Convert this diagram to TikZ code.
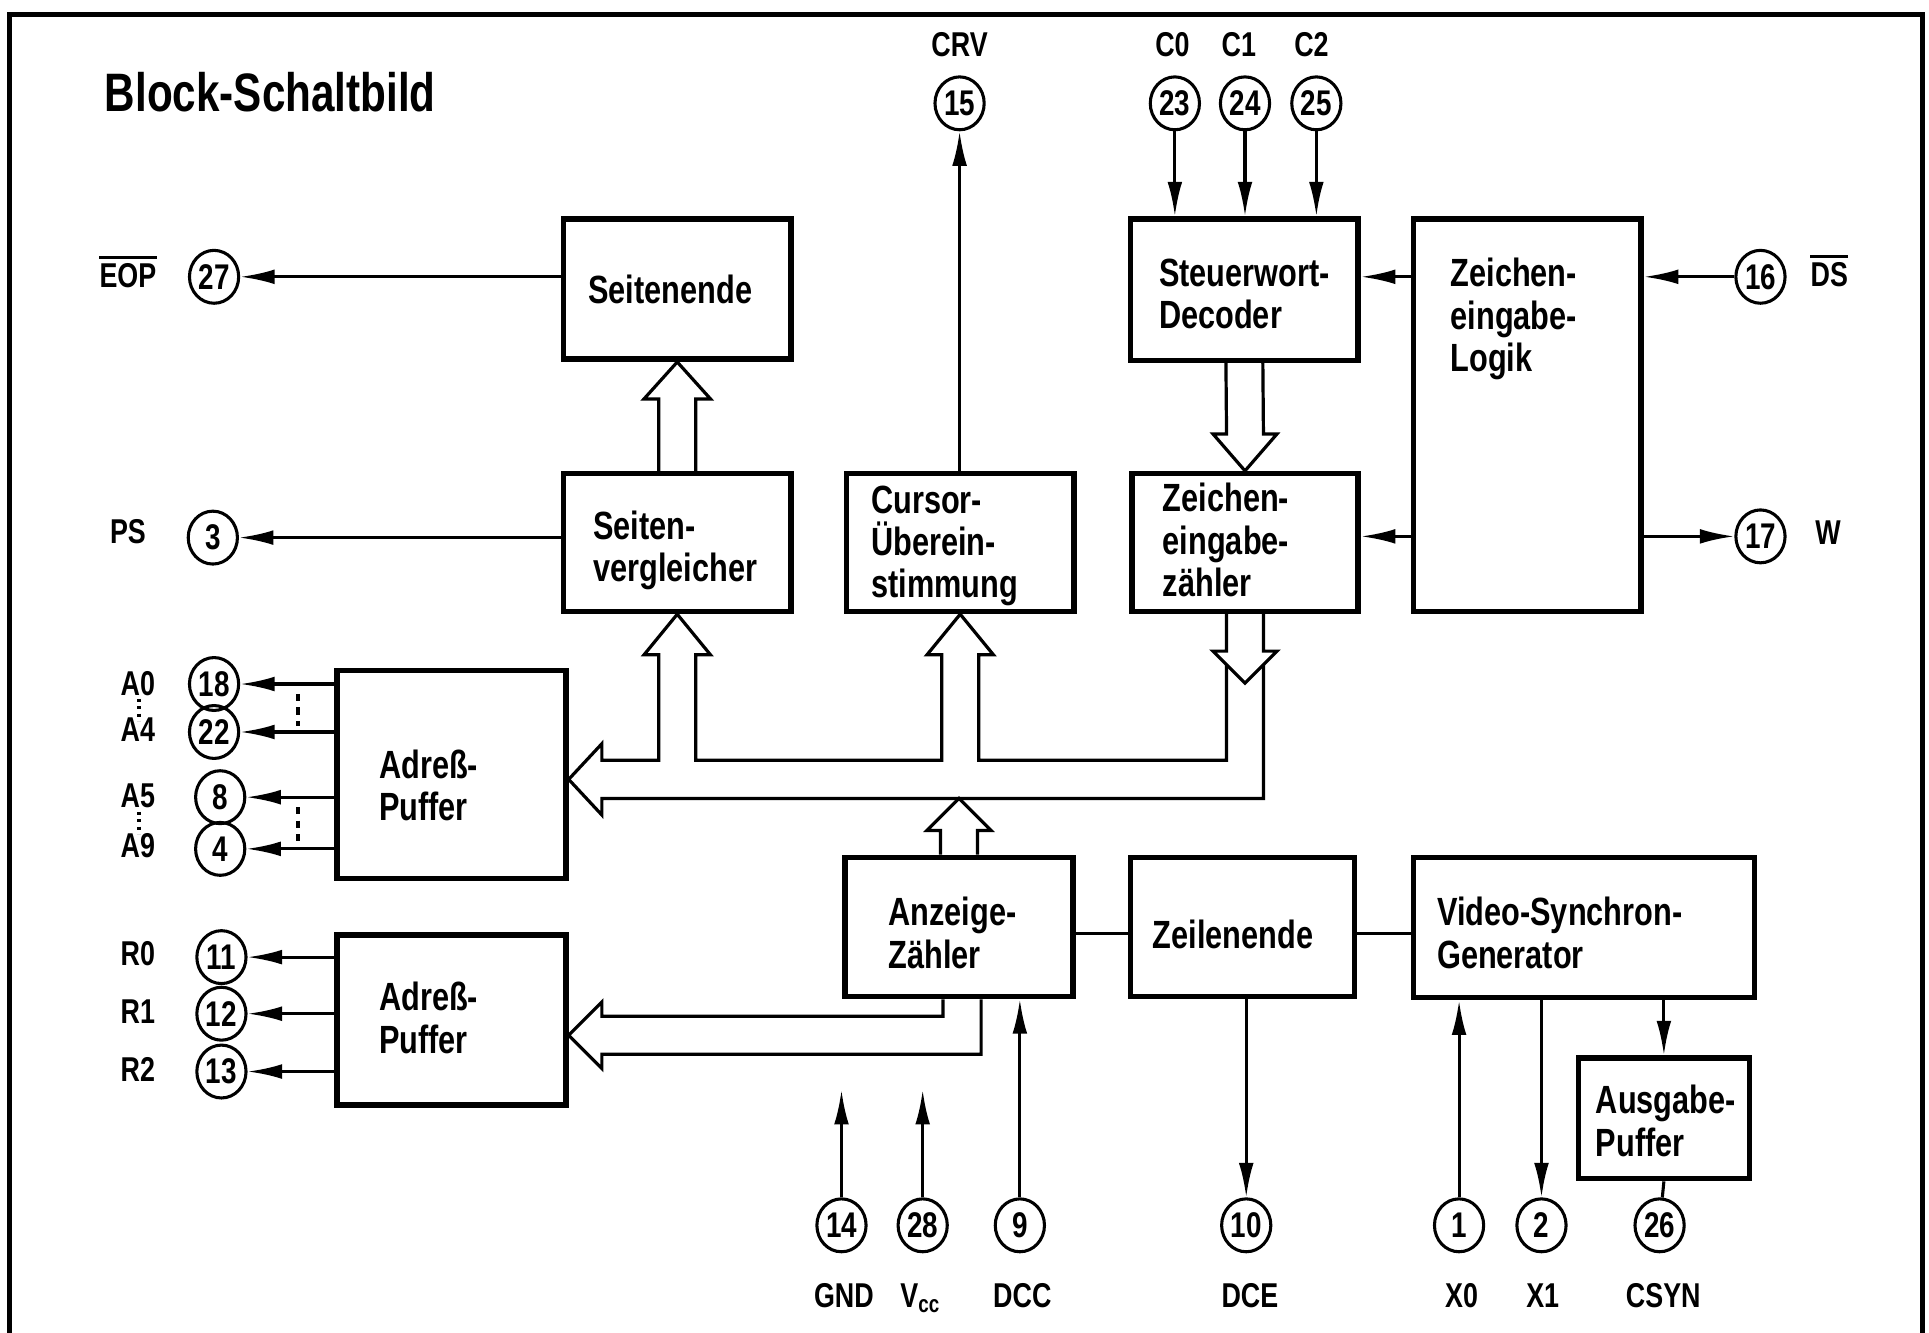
\documentclass[tikz,border=0pt]{standalone}
\usepackage{fontspec}
\setmainfont{Liberation Sans}[FakeStretch=0.78]
\usetikzlibrary{arrows.meta,calc,shapes.geometric}
\newcommand\bxfont{\fontsize{32}{34.5}\selectfont\bfseries}
\newcommand\pnfont{\fontsize{29}{30}\selectfont\bfseries}
\newcommand\lbfont{\fontsize{28}{30}\selectfont\bfseries}
\newcommand\ttlfont{\fontsize{44}{46}\selectfont\bfseries}
\begin{document}
\begin{tikzpicture}[x=1pt,y=-1pt,
  frame/.style={line width=4pt},
  box/.style={draw, rectangle, line width=4.5pt, inner sep=0pt},
  txt/.style={anchor=base west, inner sep=0pt, align=left, font=\bxfont},
  pin/.style={draw, ellipse, line width=2.5pt, minimum width=40pt, minimum height=43pt, inner sep=0pt, font=\pnfont},
  lbl/.style={anchor=base, inner sep=0pt, font=\lbfont},
  ovl/.style={line width=2.2pt},
  con/.style={line width=2.5pt},
  arr/.style={line width=2.5pt, -{Latex[length=28pt,width=12pt]}},
  hol/.style={line width=2.6pt, line join=miter},
  dsh/.style={line width=3pt, dash pattern=on 6pt off 5pt},
  dts/.style={line width=2.5pt, dash pattern=on 2.5pt off 3.5pt}
]
\useasboundingbox (0,0) rectangle (1568,1083);
\draw[frame] (8,1090) -- (8,12) -- (1563,12) -- (1563,1090);

\node[anchor=base west, inner sep=0pt, font=\ttlfont] (title) at (85,91) {Block-Schaltbild};

% boxes
\node[box, minimum width=185pt, minimum height=114pt] (send) at (550.5,235) {};
\node[box, minimum width=185pt, minimum height=112pt] (svgl) at (550.5,441) {};
\node[box, minimum width=185pt, minimum height=112pt] (curs) at (780.5,441) {};
\node[box, minimum width=185pt, minimum height=115pt] (swd) at (1011.5,235.5) {};
\node[box, minimum width=184pt, minimum height=112pt] (zez) at (1012,441) {};
\node[box, minimum width=185pt, minimum height=319pt] (zel) at (1241.5,337.5) {};
\node[box, minimum width=186pt, minimum height=169pt] (ap1) at (367,629.5) {};
\node[box, minimum width=186pt, minimum height=138pt] (ap2) at (367,829) {};
\node[box, minimum width=185pt, minimum height=113pt] (anz) at (779.5,753.5) {};
\node[box, minimum width=182pt, minimum height=113pt] (zen) at (1010,753.5) {};
\node[box, minimum width=277pt, minimum height=114pt] (vsg) at (1287.5,754) {};
\node[box, minimum width=139pt, minimum height=98pt] (agp) at (1352.5,909) {};

% box texts (anchor = baseline of last line)
\node[txt] (tsend) at (478,247) {Seitenende};
\node[txt] (tswd) at (942,267) {Steuerwort-\\Decoder};
\node[txt] (tzel) at (1179,302) {Zeichen-\\eingabe-\\Logik};
\node[txt] (tsvgl) at (482,473) {Seiten-\\vergleicher};
\node[txt] (tcurs) at (708,486) {Cursor-\\Überein-\\stimmung};
\node[txt] (tzez) at (945,485) {Zeichen-\\eingabe-\\zähler};
\node[txt] (tap1) at (308,667) {Adreß-\\Puffer};
\node[txt] (tap2) at (308,856) {Adreß-\\Puffer};
\node[txt] (tanz) at (722,787) {Anzeige-\\Zähler};
\node[txt] (tzen) at (937,771) {Zeilenende};
\node[txt] (tvsg) at (1168,787) {Video-Synchron-\\Generator};
\node[txt] (tagp) at (1297,940) {Ausgabe-\\Puffer};

% pins
\node[pin] (p27) at (174,225) {27};
\node[pin] (p3) at (173,437) {3};
\node[pin] (p18) at (174,556) {18};
\node[pin] (p22) at (174,595) {22};
\node[pin] (p8) at (179,648) {8};
\node[pin] (p4) at (179,690) {4};
\node[pin] (p11) at (180,778) {11};
\node[pin] (p12) at (180,824) {12};
\node[pin] (p13) at (180,871) {13};
\node[pin] (p15) at (780,84) {15};
\node[pin] (p23) at (955,84) {23};
\node[pin] (p24) at (1012,84) {24};
\node[pin] (p25) at (1070,84) {25};
\node[pin] (p16) at (1431,225) {16};
\node[pin] (p17) at (1431,436) {17};
\node[pin] (p14) at (684,996) {14};
\node[pin] (p28) at (750,996) {28};
\node[pin] (p9) at (829,996) {9};
\node[pin] (p10) at (1013,996) {10};
\node[pin] (p1) at (1186,996) {1};
\node[pin] (p2) at (1253,996) {2};
\node[pin] (p26) at (1349,996) {26};

% pin labels
\node[lbl] (leop) at (104,234) {EOP};
\draw[ovl] ($(leop.north west)+(0,-5)$) -- ($(leop.north east)+(0,-5)$);
\node[lbl] (lps) at (104,442) {PS};
\node[lbl] (la0) at (112,565) {A0};
\node[lbl] (la4) at (112,603) {A4};
\node[lbl] (la5) at (112,656) {A5};
\node[lbl] (la9) at (112,697) {A9};
\node[lbl] (lr0) at (112,785) {R0};
\node[lbl] (lr1) at (112,832) {R1};
\node[lbl] (lr2) at (112,879) {R2};
\node[lbl] (lcrv) at (780,46) {CRV};
\node[lbl] (lc0) at (953,46) {C0};
\node[lbl] (lc1) at (1007,46) {C1};
\node[lbl] (lc2) at (1066,46) {C2};
\node[lbl] (lds) at (1487,233) {DS};
\draw[ovl] ($(lds.north west)+(0,-5)$) -- ($(lds.north east)+(0,-5)$);
\node[lbl] (lw) at (1486,443) {W};
\node[lbl] (lgnd) at (686,1063) {GND};
\node[lbl] (lvcc) at (748,1063) {V\textsubscript{cc}};
\node[lbl] (ldcc) at (831,1063) {DCC};
\node[lbl] (ldce) at (1016,1063) {DCE};
\node[lbl] (lx0) at (1188,1063) {X0};
\node[lbl] (lx1) at (1254,1063) {X1};
\node[lbl] (lcsyn) at (1352,1063) {CSYN};

% dotted marks between labels
\draw[dts] (113,568) -- (113,586);
\draw[dts] (113,660) -- (113,678);

% single-line connectors
\draw[arr] (send.west |- p27) -- (p27);
\draw[arr] (svgl.west |- p3) -- (p3);
\draw[arr] (curs.north -| p15) -- (p15);
\draw[arr] (p23) -- (p23 |- swd.north);
\draw[arr] (p24) -- (p24 |- swd.north);
\draw[arr] (p25) -- (p25 |- swd.north);
\draw[arr] (p16) -- (p16 -| zel.east);
\draw[arr] (zel.east |- p17) -- (p17);
\draw[arr] (zel.west |- p16) -- (swd.east |- p16);
\draw[arr] (zel.west |- p17) -- (zez.east |- p17);

\draw[arr] (ap1.west |- p18) -- (p18);
\draw[arr] (ap1.west |- p22) -- (p22);
\draw[arr] (ap1.west |- p8) -- (p8);
\draw[arr] (ap1.west |- p4) -- (p4);
\draw[dsh] (242,564) -- (242,590);
\draw[dsh] (242,656) -- (242,685);
\draw[arr] (ap2.west |- p11) -- (p11);
\draw[arr] (ap2.west |- p12) -- (p12);
\draw[arr] (ap2.west |- p13) -- (p13);

\coordinate (hz) at (0,759);
\draw[con] (anz.east |- hz) -- (zen.west |- hz);
\draw[con] (zen.east |- hz) -- (vsg.west |- hz);

\coordinate (gndtip) at (684,886);
\coordinate (vcctip) at (750,886);
\draw[arr] (p14) -- (gndtip);
\draw[arr] (p28) -- (vcctip);
\draw[arr] (p9) -- (p9 |- anz.south);
\draw[arr] (zen.south -| p10) -- (p10);
\draw[arr] (p1) -- (p1 |- vsg.south);
\draw[arr] (vsg.south -| p2) -- (p2);
\draw[arr] (vsg.south -| agp.north) -- (agp.north);
\draw[con] (agp.south) -- (p26);

% hollow arrows
\draw[hol] ($(svgl.north)+(-15,0)$) -- ($(send.south)+(-15,30)$) -- ($(send.south)+(-27,30)$) -- (send.south) -- ($(send.south)+(27,30)$) -- ($(send.south)+(15,30)$) -- ($(svgl.north)+(15,0)$);
\draw[hol] ($(swd.south)+(-15,0)$) -- ($(zez.north)+(-15,-30)$) -- ($(zez.north)+(-26,-30)$) -- (zez.north) -- ($(zez.north)+(26,-30)$) -- ($(zez.north)+(15,-30)$) -- ($(swd.south)+(15,0)$);

% main bus
\coordinate (busc) at (0,633.5);
\coordinate (bt) at (ap1.east |- busc);
\draw[hol] (bt) -- ($(bt)+(27,-29)$) -- ($(bt)+(27,-15.5)$)
  -- ($(svgl.south |- bt)+(-15,-15.5)$) -- ($(svgl.south)+(-15,33)$) -- ($(svgl.south)+(-27,33)$) -- (svgl.south) -- ($(svgl.south)+(27,33)$) -- ($(svgl.south)+(15,33)$) -- ($(svgl.south |- bt)+(15,-15.5)$)
  -- ($(curs.south |- bt)+(-15,-15.5)$) -- ($(curs.south)+(-15,33)$) -- ($(curs.south)+(-27,33)$) -- (curs.south) -- ($(curs.south)+(27,33)$) -- ($(curs.south)+(15,33)$) -- ($(curs.south |- bt)+(15,-15.5)$)
  -- ($(zez.south |- bt)+(-15,-15.5)$) -- ($(zez.south)+(-15,41)$);
\draw[hol] ($(zez.south)+(-15,0)$) -- ($(zez.south)+(-15,30)$) -- ($(zez.south)+(-26,30)$) -- ($(zez.south)+(0,56)$) -- ($(zez.south)+(26,30)$) -- ($(zez.south)+(15,30)$) -- ($(zez.south)+(15,0)$);
\draw[hol] ($(zez.south)+(15,41)$) -- ($(zez.south |- bt)+(15,15.5)$) -- ($(bt)+(27,15.5)$) -- ($(bt)+(27,29)$) -- (bt);
\draw[hol] ($(anz.north)+(-15,0)$) -- ($(anz.north |- bt)+(-15,41.5)$) -- ($(anz.north |- bt)+(-26,41.5)$) -- ($(anz.north |- bt)+(0,15.5)$) -- ($(anz.north |- bt)+(26,41.5)$) -- ($(anz.north |- bt)+(15,41.5)$) -- ($(anz.north)+(15,0)$);

% second bus
\coordinate (bus2c) at (0,841.5);
\coordinate (b2t) at (ap2.east |- bus2c);
\draw[hol] ($(anz.south)+(-13,0)$) -- ($(anz.south |- b2t)+(-13,-15.5)$) -- ($(b2t)+(27,-15.5)$) -- ($(b2t)+(27,-27)$) -- (b2t) -- ($(b2t)+(27,27)$) -- ($(b2t)+(27,15.5)$) -- ($(anz.south |- b2t)+(18,15.5)$) -- ($(anz.south)+(18,0)$);
\end{tikzpicture}
\end{document}
